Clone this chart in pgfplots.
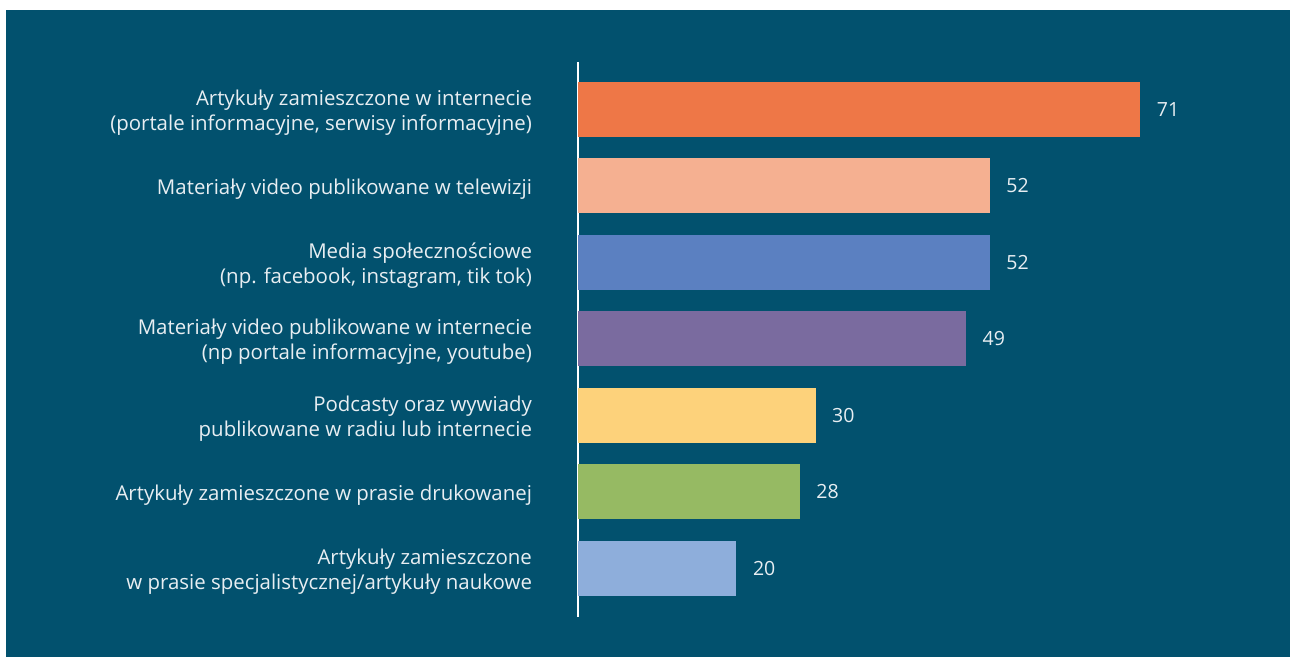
\documentclass[border=0pt]{standalone}
\usepackage{pgfplots}
\pgfplotsset{compat=1.18}
\usepackage{fontspec}
\setmainfont{Open Sans}[Ligatures={NoCommon}]

\definecolor{bg}{HTML}{02516E}
\definecolor{txt}{HTML}{E8EEF2}
\definecolor{c1}{HTML}{EE7747}
\definecolor{c2}{HTML}{F5B091}
\definecolor{c3}{HTML}{5B80C1}
\definecolor{c4}{HTML}{7A6B9F}
\definecolor{c5}{HTML}{FDD27B}
\definecolor{c6}{HTML}{96BA63}
\definecolor{c7}{HTML}{8EAEDB}

\begin{document}
\begin{tikzpicture}
% page: 1290 x 657 px at 0.5bp per px
\fill[white] (0,0) rectangle (645bp,328.5bp);
\fill[bg] (3bp,0) rectangle (645bp,323.5bp);

\begin{axis}[
  at={(289bp,297.5bp)}, anchor=north west,
  scale only axis,
  width=336.6bp, height=277.3bp,
  xbar, bar width=27.5bp, bar shift=0pt,
  xmin=0, xmax=85,
  ymin=-0.62, ymax=6.63,
  y dir=reverse,
  axis x line=none,
  axis y line*=left,
  y axis line style={draw=white, line width=1.3bp, -},
  ytick={0,1,2,3,4,5,6},
  major tick length=0pt,
  yticklabels={
    {Artykuły zamieszczone w internecie\\(portale informacyjne, serwisy informacyjne)},
    {Materiały video publikowane w telewizji},
    {Media społecznościowe\\(np. facebook, instagram, tik tok)},
    {Materiały video publikowane w internecie\\(np portale informacyjne, youtube)},
    {Podcasty oraz wywiady\\publikowane w radiu lub internecie},
    {Artykuły zamieszczone w prasie drukowanej},
    {Artykuły zamieszczone\\w prasie specjalistycznej/artykuły naukowe}},
  yticklabel style={align=right, text=txt, font=\fontsize{10.25}{12.6}\selectfont, xshift=-19.5bp, yshift=-1.5bp},
  /pgf/number format/assume math mode=true,
  nodes near coords,
  nodes near coords style={anchor=west, text=txt, font=\fontsize{9.8}{12}\selectfont, xshift=4.8bp},
  clip=false,
]
\addplot[draw=none, fill=c1, bar shift=0pt] coordinates {(71,0)};
\addplot[draw=none, fill=c2, bar shift=0pt] coordinates {(52,1)};
\addplot[draw=none, fill=c3, bar shift=0pt] coordinates {(52,2)};
\addplot[draw=none, fill=c4, bar shift=0pt] coordinates {(49,3)};
\addplot[draw=none, fill=c5, bar shift=0pt] coordinates {(30,4)};
\addplot[draw=none, fill=c6, bar shift=0pt] coordinates {(28,5)};
\addplot[draw=none, fill=c7, bar shift=0pt] coordinates {(20,6)};
\end{axis}
\end{tikzpicture}
\end{document}
